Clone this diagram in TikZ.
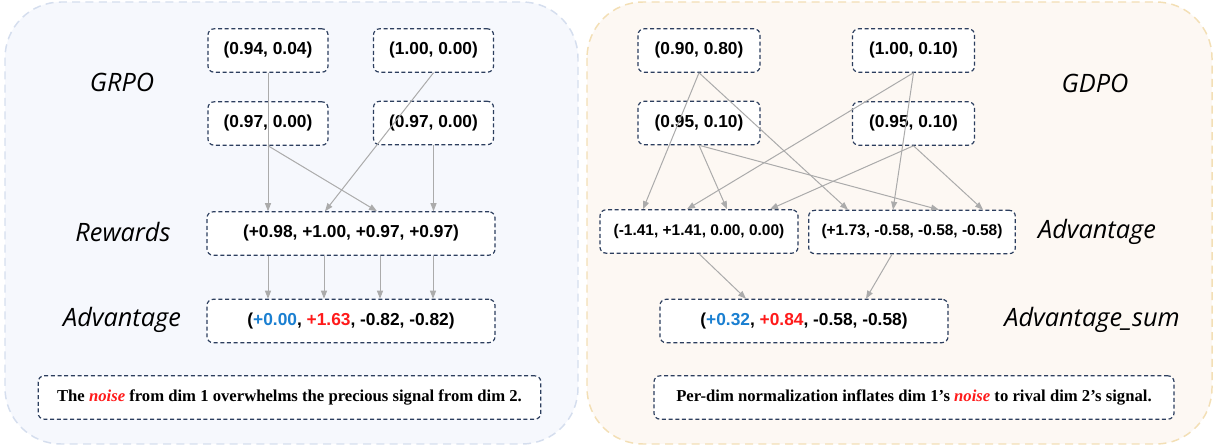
\documentclass[tikz,border=0pt]{standalone}
\usepackage{fontspec}
\setmainfont{Liberation Sans}
\newfontfamily\notefont{Liberation Serif}
\newfontfamily\handfont{Open Sans}
\usetikzlibrary{arrows.meta}
\definecolor{navy}{HTML}{2C3E5E}
\definecolor{arrowgray}{HTML}{ABABAB}
\definecolor{bluepanel}{HTML}{F6F8FD}
\definecolor{blueedge}{HTML}{D5DEEE}
\definecolor{sandpanel}{HTML}{FDF8F3}
\definecolor{sandedge}{HTML}{F3DFB5}
\definecolor{gainblue}{HTML}{1A7FD1}
\definecolor{noisered}{HTML}{FF1A1A}
\begin{document}
\begin{tikzpicture}[x = 0.75pt, y = -0.75pt,
	panel/.style = {dash pattern = on 6pt off 4pt, line width = 1.1pt, rounded corners = 42pt},
	val/.style = {draw = navy, fill = white, dash pattern = on 3pt off 2pt, line width = 0.9pt, rounded corners = 4.5pt, font = \bfseries\fontsize{13}{15}\selectfont, minimum height = 32.5pt, inner sep = 0pt},
	note/.style = {val, font = \notefont\bfseries\fontsize{12.5}{15}\selectfont},
	tag/.style = {font = \handfont\itshape\fontsize{19}{22}\selectfont},
	link/.style = {draw = arrowgray, line width = 0.75pt, -{Triangle[length = 6pt, width = 4.5pt]}}]
	\useasboundingbox (0, 0) rectangle (1220, 448);
	\draw[panel, draw = blueedge, fill = bluepanel] (5, 2) rectangle (578, 444);
	\draw[panel, draw = sandedge, fill = sandpanel] (587, 2) rectangle (1212, 444);
	
	\node[tag] (grpo) at (122, 82) {GRPO};
	\node[tag] (rewtag) at (123, 232) {Rewards};
	\node[tag] (advtag) at (122, 320) {Advantage};
	\node[val, minimum width = 90pt] (p1) at (268, 50.5) {(0.94, 0.04)};
	\node[val, minimum width = 90pt] (p2) at (433.5, 50.5) {(1.00, 0.00)};
	\node[val, minimum width = 90pt] (p3) at (268, 123.5) {(0.97, 0.00)};
	\node[val, minimum width = 90pt] (p4) at (433.5, 123) {(0.97, 0.00)};
	\node[val, minimum width = 216pt] (rew) at (351, 233.5) {(+0.98, +1.00, +0.97, +0.97)};
	\node[val, minimum width = 216pt] (adv) at (351, 321) {(\textcolor{gainblue}{+0.00}, \textcolor{noisered}{+1.63}, -0.82, -0.82)};
	\node[note, minimum width = 377pt] (note1) at (289.5, 397.5) {The \textcolor{noisered}{\itshape noise} from dim 1 overwhelms the precious signal from dim 2.};
	
	\draw[link] (p1.south) -- (p1.south |- rew.north);
	\draw[link] (p2.south) -- ([xshift = -19.5pt]rew.north);
	\draw[link] (p3.south) -- ([xshift = 19.5pt]rew.north);
	\draw[link] (p4.south) -- (p4.south |- rew.north);
	\foreach \dx in {-83, -27, 29, 82}
		\draw[link] ([xshift = \dx*0.75pt]rew.south) -- ([xshift = \dx*0.75pt]adv.north);
	
	\node[tag] (gdpo) at (1095, 83) {GDPO};
	\node[tag] (advtag2) at (1097, 232) {Advantage};
	\node[tag] (sumtag) at (1092, 320) {Advantage\_sum};
	\node[val, minimum width = 91.5pt] (q1) at (699, 50.5) {(0.90, 0.80)};
	\node[val, minimum width = 91.5pt] (q2) at (913.5, 50.5) {(1.00, 0.10)};
	\node[val, minimum width = 91.5pt] (q3) at (699, 123) {(0.95, 0.10)};
	\node[val, minimum width = 91.5pt] (q4) at (913.5, 123.5) {(0.95, 0.10)};
	\node[val, minimum width = 148.5pt, font = \bfseries\fontsize{11.6}{14}\selectfont] (a1) at (699, 231.5) {(-1.41, +1.41, 0.00, 0.00)};
	\node[val, minimum width = 155pt, font = \bfseries\fontsize{11.6}{14}\selectfont] (a2) at (912, 232) {(+1.73, -0.58, -0.58, -0.58)};
	\node[val, minimum width = 216pt] (sum) at (804, 321) {(\textcolor{gainblue}{+0.32}, \textcolor{noisered}{+0.84}, -0.58, -0.58)};
	\node[note, minimum width = 390pt] (note2) at (914, 397.5) {Per-dim normalization inflates dim 1’s \textcolor{noisered}{\itshape noise} to rival dim 2’s signal.};
	
	\draw[link] (q1.south) -- ([xshift = -42pt]a1.north);
	\draw[link] (q1.south) -- ([xshift = -48pt]a2.north);
	\draw[link] (q2.south) -- ([xshift = -9pt]a1.north);
	\draw[link] (q2.south) -- ([xshift = -14.25pt]a2.north);
	\draw[link] (q3.south) -- ([xshift = 21pt]a1.north);
	\draw[link] (q3.south) -- ([xshift = 20.25pt]a2.north);
	\draw[link] (q4.south) -- ([xshift = 53.25pt]a1.north);
	\draw[link] (q4.south) -- ([xshift = 53.25pt]a2.north);
	\draw[link] (a1.south) -- ([xshift = -43.5pt]sum.north);
	\draw[link] ([xshift = -15pt]a2.south) -- ([xshift = 46.5pt]sum.north);
\end{tikzpicture}
\end{document}
